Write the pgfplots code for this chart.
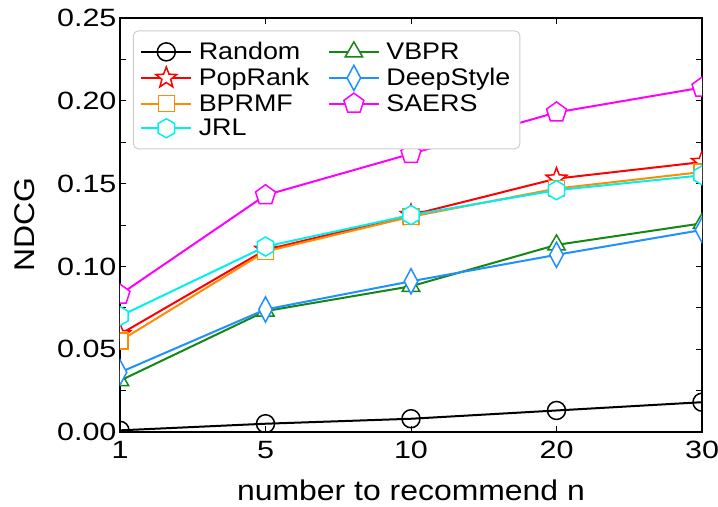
\documentclass[border=0pt]{standalone}
\usepackage{fontspec}
\setmainfont[FakeStretch=1.12]{Liberation Sans}
\newfontfamily\tickfont[FakeStretch=1.22]{Liberation Sans}
\usepackage{pgfplots}
\pgfplotsset{compat=1.18}
\usetikzlibrary{plotmarks}

\definecolor{cRandom}{RGB}{0,0,0}
\definecolor{cPop}{RGB}{255,0,0}
\definecolor{cBPR}{RGB}{255,140,0}
\definecolor{cJRL}{RGB}{0,240,240}
\definecolor{cVBPR}{RGB}{20,135,20}
\definecolor{cDeep}{RGB}{30,144,255}
\definecolor{cSAERS}{RGB}{255,0,255}

% hexagon, pointy top
\pgfdeclareplotmark{hexagon}{%
  \pgfpathmoveto{\pgfpointpolar{90}{\pgfplotmarksize}}%
  \pgfpathlineto{\pgfpointpolar{150}{\pgfplotmarksize}}%
  \pgfpathlineto{\pgfpointpolar{210}{\pgfplotmarksize}}%
  \pgfpathlineto{\pgfpointpolar{270}{\pgfplotmarksize}}%
  \pgfpathlineto{\pgfpointpolar{330}{\pgfplotmarksize}}%
  \pgfpathlineto{\pgfpointpolar{30}{\pgfplotmarksize}}%
  \pgfpathclose
  \pgfusepathqfillstroke}
% five-pointed star
\pgfdeclareplotmark{fstar}{%
  \pgfpathmoveto{\pgfpointpolar{90}{\pgfplotmarksize}}%
  \pgfpathlineto{\pgfpointpolar{126}{0.42\pgfplotmarksize}}%
  \pgfpathlineto{\pgfpointpolar{162}{\pgfplotmarksize}}%
  \pgfpathlineto{\pgfpointpolar{198}{0.42\pgfplotmarksize}}%
  \pgfpathlineto{\pgfpointpolar{234}{\pgfplotmarksize}}%
  \pgfpathlineto{\pgfpointpolar{270}{0.42\pgfplotmarksize}}%
  \pgfpathlineto{\pgfpointpolar{306}{\pgfplotmarksize}}%
  \pgfpathlineto{\pgfpointpolar{342}{0.42\pgfplotmarksize}}%
  \pgfpathlineto{\pgfpointpolar{18}{\pgfplotmarksize}}%
  \pgfpathlineto{\pgfpointpolar{54}{0.42\pgfplotmarksize}}%
  \pgfpathclose
  \pgfusepathqfillstroke}

\begin{document}
\begin{tikzpicture}
\begin{axis}[
  scale only axis, width=582pt, height=414pt,
  xmin=0, xmax=4, ymin=0, ymax=0.25,
  xtick={0,1,2,3,4}, xticklabels={1,5,10,20,30},
  ytick={0,0.05,0.10,0.15,0.20,0.25},
  minor ytick={0.025,0.075,0.125,0.175,0.225},
  yticklabel style={/pgf/number format/.cd, fixed, fixed zerofill, precision=2},
  /pgf/number format/assume math mode=true,
  tick align=inside, major tick length=6pt, minor tick length=6pt,
  tick style={black, line width=1pt},
  axis line style={line width=1.4pt},
  ticklabel style={font=\tickfont\fontsize{25}{26}\selectfont},
  xticklabel style={yshift=-6pt},
  xlabel={number to recommend n}, ylabel={NDCG},
  label style={font=\fontsize{28.5}{29}\selectfont},
  xlabel style={at={(axis description cs:0.5,-0.142)}, anchor=center},
  ylabel style={at={(axis description cs:-0.163,0.5)}, anchor=center},
  clip marker paths=true,
  every axis plot/.append style={line width=2pt},
  legend columns=2,
  legend cell align=left,
  legend style={at={(0.022,0.97)}, anchor=north west,
    draw={rgb,255:red,205;green,205;blue,205}, line width=1pt, rounded corners=5pt,
    font=\fontsize{24}{26}\selectfont, inner xsep=7pt, inner ysep=9pt,
    nodes={inner sep=2.5pt}, row sep=1.5pt,
    /tikz/every odd column/.append style={column sep=4pt},
    /tikz/every even column/.append style={column sep=16pt}},
  legend image code/.code={\draw[mark repeat=2, mark phase=2] plot coordinates {(0pt,0pt) (25pt,0pt) (50pt,0pt)};},
]
\addplot[color=cRandom, mark=o, mark size=9pt, mark options={fill=white, solid, line width=1.5pt}] coordinates {(0,0.001) (1,0.005) (2,0.008) (3,0.013) (4,0.018)};
\addlegendentry{Random}
\addplot[color=cVBPR, mark=triangle*, mark size=10pt, mark options={fill=white, solid, line width=1.5pt}] coordinates {(0,0.031) (1,0.073) (2,0.088) (3,0.113) (4,0.126)};
\addlegendentry{VBPR}
\addplot[color=cPop, mark=fstar, mark size=11pt, mark options={fill=white, solid, line width=1.5pt}] coordinates {(0,0.059) (1,0.110) (2,0.131) (3,0.153) (4,0.163)};
\addlegendentry{PopRank}
\addplot[color=cDeep, mark=diamond*, mark size=9pt, mark options={fill=white, solid, line width=1.5pt, yscale=1.4}] coordinates {(0,0.036) (1,0.074) (2,0.091) (3,0.107) (4,0.122)};
\addlegendentry{DeepStyle}
\addplot[color=cBPR, mark=square*, mark size=8pt, mark options={fill=white, solid, line width=1.5pt}] coordinates {(0,0.055) (1,0.109) (2,0.130) (3,0.147) (4,0.157)};
\addlegendentry{BPRMF}
\addplot[color=cSAERS, mark=pentagon*, mark size=10.5pt, mark options={fill=white, solid, line width=1.5pt}] coordinates {(0,0.083) (1,0.143) (2,0.168) (3,0.193) (4,0.208)};
\addlegendentry{SAERS}
\addplot[color=cJRL, mark=hexagon, mark size=9.5pt, mark options={fill=white, solid, line width=1.5pt}] coordinates {(0,0.070) (1,0.112) (2,0.131) (3,0.146) (4,0.155)};
\addlegendentry{JRL}
\coordinate (bl) at (rel axis cs:0,0);
\coordinate (tr) at (rel axis cs:1,1);
\end{axis}
\pgfresetboundingbox
\path ([shift={(-120pt,-74pt)}]bl) rectangle ([shift={(16pt,18pt)}]tr);
\end{tikzpicture}
\end{document}
